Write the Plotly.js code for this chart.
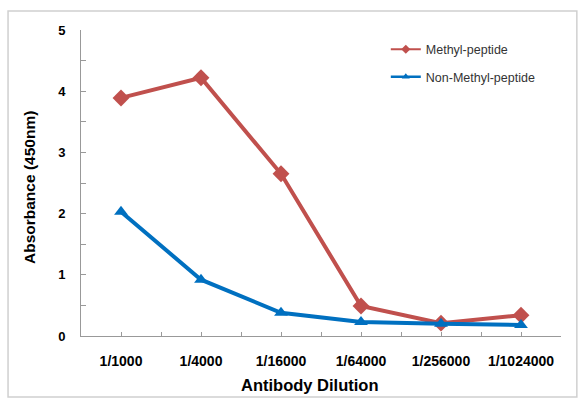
<!DOCTYPE html>
<html><head><meta charset="utf-8">
<script src="https://cdn.plot.ly/plotly-3.0.1.min.js"></script>
<style>html,body{margin:0;padding:0;background:#fff;}#chart{width:581px;height:400px;}</style>
</head><body><div id="chart"></div>
<script>
const categories = ["1/1000","1/4000","1/16000","1/64000","1/256000","1/1024000"];
const methylValues = [3.89, 4.22, 2.65, 0.49, 0.21, 0.34];
const nonMethylValues = [2.03, 0.92, 0.38, 0.23, 0.20, 0.18];
const seriesNames = ["Methyl-peptide","Non-Methyl-peptide"];
const seriesColors = ['#C0504D','#0070C0'];
const xTitle = 'Antibody Dilution';
const yTitle = 'Absorbance (450nm)';

const xIdx = categories.map((c,i)=>i);
const FF = 'Liberation Sans, Arial, sans-serif';
const traces = [
  {x:xIdx, y:methylValues, name:seriesNames[0], type:'scatter', mode:'lines+markers', showlegend:false,
   line:{color:seriesColors[0], width:4}, marker:{symbol:'diamond', size:13, color:seriesColors[0]}},
  {x:xIdx, y:nonMethylValues, name:seriesNames[1], type:'scatter', mode:'lines+markers', showlegend:false,
   line:{color:seriesColors[1], width:4}, marker:{symbol:'triangle-up', size:12, color:seriesColors[1]}},
  {x:[null], y:[null], name:seriesNames[0], type:'scatter', mode:'lines+markers', legend:'legend',
   line:{color:seriesColors[0], width:2}, marker:{symbol:'diamond', size:7, color:seriesColors[0]}},
  {x:[null], y:[null], name:seriesNames[1], type:'scatter', mode:'lines+markers', legend:'legend2',
   line:{color:seriesColors[1], width:2.5}, marker:{symbol:'triangle-up', size:7, color:seriesColors[1]}}
];
const tickBold = {family:FF, size:14, color:'#000', weight:'bold'};
const legFont = {family:FF, size:12.5, color:'#333'};
const layout = {
  width:581, height:400,
  margin:{l:81, r:20, t:30, b:64},
  paper_bgcolor:'#fff', plot_bgcolor:'#fff',
  showlegend:true,
  xaxis:{range:[-0.5,5.5], tickvals:xIdx, ticktext:categories, showgrid:false, zeroline:false,
    showline:true, linecolor:'#999', linewidth:1, ticks:'inside', ticklen:4, tickcolor:'#999',
    minor:{tick0:-0.5, dtick:1, ticks:'inside', ticklen:4, tickcolor:'#999'},
    tickfont:tickBold, ticklabelstandoff:12},
  yaxis:{range:[0,5], dtick:1, tick0:0, showgrid:false, zeroline:false,
    showline:true, linecolor:'#999', linewidth:1, ticks:'inside', ticklen:5, tickcolor:'#999',
    minor:{dtick:0.5, ticks:'inside', ticklen:5, tickcolor:'#999'},
    tickfont:{family:FF, size:13, color:'#000', weight:'bold'}, ticklabelstandoff:12},
  annotations:[
    {text:xTitle, xref:'paper', yref:'paper', x:(309-81)/480, y:(336-385)/306, xanchor:'center', yanchor:'middle',
     showarrow:false, font:{family:FF, size:16.5, color:'#000', weight:'bold'}},
    {text:yTitle, xref:'paper', yref:'paper', x:(30-81)/480, y:(336-188)/306, xanchor:'center', yanchor:'middle',
     textangle:-90, showarrow:false, font:{family:FF, size:15.5, color:'#000', weight:'bold'}}
  ],
  legend:{x:0.635, y:0.985, xanchor:'left', yanchor:'top', bgcolor:'rgba(0,0,0,0)', font:legFont},
  legend2:{x:0.635, y:0.895, xanchor:'left', yanchor:'top', bgcolor:'rgba(0,0,0,0)', font:legFont},
  shapes:[{type:'rect', xref:'paper', yref:'paper', x0:-0.152, x1:1.033, y0:-0.199, y1:1.062,
    line:{color:'#d0d0d0', width:1.5}, fillcolor:'rgba(0,0,0,0)', layer:'below'}]
};
Plotly.newPlot('chart', traces, layout, {displayModeBar:false, staticPlot:true});
</script></body></html>
